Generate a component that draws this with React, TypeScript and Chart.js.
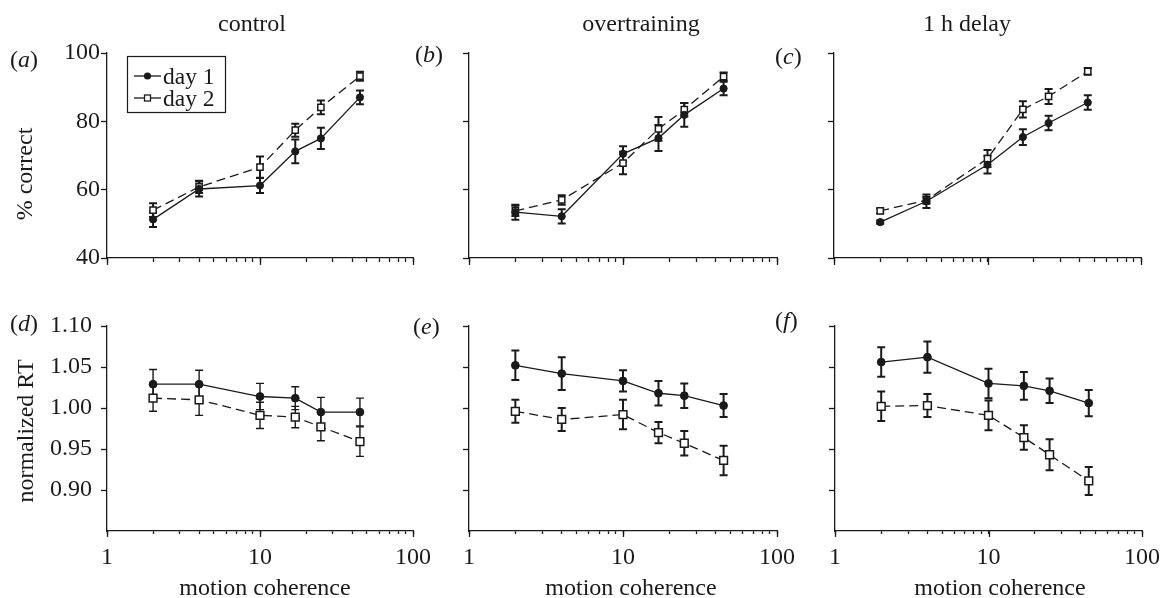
import React, { useEffect, useRef } from 'react';
import { Chart, registerables } from 'chart.js';

Chart.register(...registerables);

// ---------- data ----------
const coherence = [2, 4, 10, 17, 25, 45];
const xTickValues = [1, 2, 3, 4, 5, 6, 7, 8, 9, 10, 20, 30, 40, 50, 60, 70, 80, 90, 100];
const xMajorTicks = [1, 10, 100];
const accTicks = [40, 60, 80, 100];
const rtTicks = [0.9, 0.95, 1.0, 1.05, 1.1];
const panelTitles = ['control', 'overtraining', '1 h delay'];
const panelLetters = ['a', 'b', 'c', 'd', 'e', 'f'];
const seriesNames = ['day 1', 'day 2'];
const xAxisTitle = 'motion coherence';
const accAxisTitle = '% correct';
const rtAxisTitle = 'normalized RT';

// (a) control, % correct
const controlAccDay1 = [51.3, 60.2, 61.2, 71.2, 75.0, 87.0];
const controlAccDay1Err = [2.2, 2.2, 2.2, 3.5, 3.1, 2.0];
const controlAccDay2 = [54.0, 60.8, 66.6, 77.4, 84.1, 93.2];
const controlAccDay2Err = [2.0, 1.8, 3.1, 1.9, 2.0, 1.3];
// (b) overtraining, % correct
const overAccDay1 = [53.4, 52.2, 70.5, 75.1, 81.9, 89.6];
const overAccDay1Err = [2.2, 2.1, 2.2, 3.8, 3.5, 2.0];
const overAccDay2 = [53.8, 57.0, 67.8, 77.8, 83.4, 93.1];
const overAccDay2Err = [1.5, 1.4, 3.3, 3.5, 2.0, 1.2];
// (c) 1 h delay, % correct
const delayAccDay1 = [50.5, 56.6, 67.3, 75.4, 79.5, 85.5];
const delayAccDay1Err = [0.5, 2.0, 2.6, 2.3, 2.1, 2.1];
const delayAccDay2 = [53.8, 56.9, 69.1, 83.5, 87.3, 94.6];
const delayAccDay2Err = [0.7, 1.0, 2.5, 2.4, 2.2, 1.0];
// (d) control, normalized RT
const controlRtDay1 = [1.029, 1.029, 1.014, 1.012, 0.995, 0.995];
const controlRtDay1Err = [0.018, 0.017, 0.016, 0.014, 0.018, 0.017];
const controlRtDay2 = [1.012, 1.01, 0.991, 0.989, 0.977, 0.959];
const controlRtDay2Err = [0.016, 0.019, 0.016, 0.013, 0.017, 0.018];
// (e) overtraining, normalized RT
const overRtDay1 = [1.052, 1.042, 1.033, 1.018, 1.015, 1.003];
const overRtDay1Err = [0.018, 0.02, 0.013, 0.015, 0.015, 0.014];
const overRtDay2 = [0.996, 0.986, 0.992, 0.97, 0.957, 0.936];
const overRtDay2Err = [0.014, 0.014, 0.018, 0.013, 0.015, 0.018];
// (f) 1 h delay, normalized RT
const delayRtDay1 = [1.056, 1.062, 1.03, 1.027, 1.021, 1.006];
const delayRtDay1Err = [0.018, 0.019, 0.018, 0.017, 0.015, 0.016];
const delayRtDay2 = [1.002, 1.003, 0.991, 0.964, 0.943, 0.911];
const delayRtDay2Err = [0.018, 0.014, 0.018, 0.015, 0.019, 0.017];

// ---------- styles ----------
const FONT = '"Liberation Serif", "Times New Roman", Times, serif';
const FS = 24;
const INK = '#1a1a1a';

type Box = { left: number; top: number; width: number; height: number };
type Area = { left: number; top: number; right: number; bottom: number };
type PanelSpec = {
  kind: 'acc' | 'rt';
  canvas: Box;
  area: Area;
  day1: number[];
  day1Err: number[];
  day2: number[];
  day2Err: number[];
  showY: boolean;
  showX: boolean;
  legend: boolean;
  errWidth: number;
};

const panels: PanelSpec[] = [
  { kind: 'acc', canvas: { left: 0, top: 0, width: 440, height: 275 }, area: { left: 107, top: 53, right: 413, bottom: 258 },
    day1: controlAccDay1, day1Err: controlAccDay1Err, day2: controlAccDay2, day2Err: controlAccDay2Err, showY: true, showX: false, legend: true, errWidth: 2 },
  { kind: 'acc', canvas: { left: 430, top: 0, width: 370, height: 275 }, area: { left: 469, top: 53, right: 777, bottom: 258 },
    day1: overAccDay1, day1Err: overAccDay1Err, day2: overAccDay2, day2Err: overAccDay2Err, showY: false, showX: false, legend: false, errWidth: 2 },
  { kind: 'acc', canvas: { left: 790, top: 0, width: 376, height: 275 }, area: { left: 834, top: 53, right: 1141, bottom: 258 },
    day1: delayAccDay1, day1Err: delayAccDay1Err, day2: delayAccDay2, day2Err: delayAccDay2Err, showY: false, showX: false, legend: false, errWidth: 2 },
  { kind: 'rt', canvas: { left: 0, top: 275, width: 440, height: 323 }, area: { left: 107, top: 326, right: 413, bottom: 531 },
    day1: controlRtDay1, day1Err: controlRtDay1Err, day2: controlRtDay2, day2Err: controlRtDay2Err, showY: true, showX: true, legend: false, errWidth: 1.4 },
  { kind: 'rt', canvas: { left: 430, top: 275, width: 380, height: 323 }, area: { left: 469, top: 326, right: 777, bottom: 531 },
    day1: overRtDay1, day1Err: overRtDay1Err, day2: overRtDay2, day2Err: overRtDay2Err, showY: false, showX: true, legend: false, errWidth: 2 },
  { kind: 'rt', canvas: { left: 790, top: 275, width: 376, height: 323 }, area: { left: 835, top: 326, right: 1142, bottom: 531 },
    day1: delayRtDay1, day1Err: delayRtDay1Err, day2: delayRtDay2, day2Err: delayRtDay2Err, showY: false, showX: true, legend: false, errWidth: 2 },
];

// ---------- plugins ----------
const errorBarPlugin = {
  id: 'errorBars',
  beforeDatasetsDraw(chart: any, _args: any, opts: any) {
    const { ctx } = chart;
    const xs = chart.scales.x;
    const ys = chart.scales.y;
    chart.data.datasets.forEach((ds: any) => {
      const errs: number[] = ds.errors;
      if (!errs) return;
      ctx.save();
      ctx.strokeStyle = INK;
      ctx.lineWidth = opts.width || 2;
      ctx.setLineDash([]);
      ds.data.forEach((pt: any, j: number) => {
        const x = xs.getPixelForValue(pt.x);
        const y1 = ys.getPixelForValue(pt.y + errs[j]);
        const y2 = ys.getPixelForValue(pt.y - errs[j]);
        const cap = 4;
        ctx.beginPath();
        ctx.moveTo(x, y1);
        ctx.lineTo(x, y2);
        ctx.moveTo(x - cap, y1);
        ctx.lineTo(x + cap, y1);
        ctx.moveTo(x - cap, y2);
        ctx.lineTo(x + cap, y2);
        ctx.stroke();
      });
      ctx.restore();
    });
  },
};

const majorTickPlugin = {
  id: 'majorTicks',
  afterDraw(chart: any, _args: any, opts: any) {
    const { ctx, chartArea } = chart;
    const xs = chart.scales.x;
    ctx.save();
    ctx.strokeStyle = INK;
    ctx.lineWidth = 1.3;
    xMajorTicks.forEach((v) => {
      const x = Math.round(xs.getPixelForValue(v)) + 0.5;
      ctx.beginPath();
      ctx.moveTo(x, chartArea.bottom);
      ctx.lineTo(x, chartArea.bottom + (opts.length || 6));
      ctx.stroke();
    });
    ctx.restore();
  },
};

const boxLegendPlugin = {
  id: 'boxLegend',
  afterDraw(chart: any, _args: any, opts: any) {
    if (!opts.show) return;
    const { ctx, chartArea } = chart;
    const bx = chartArea.left + 20.5;
    const by = chartArea.top + 3.5;
    ctx.save();
    ctx.strokeStyle = INK;
    ctx.lineWidth = 1.2;
    ctx.setLineDash([]);
    ctx.strokeRect(bx, by, 98, 56);
    const rows = [by + 19.5, by + 41.5];
    ctx.font = `23.5px ${FONT}`;
    ctx.fillStyle = INK;
    ctx.textBaseline = 'alphabetic';
    ctx.textAlign = 'left';
    rows.forEach((ry, i) => {
      ctx.lineWidth = 1.3;
      ctx.beginPath();
      ctx.moveTo(bx + 6.5, ry);
      ctx.lineTo(bx + 33.5, ry);
      ctx.stroke();
      const mx = bx + 20;
      if (i === 0) {
        ctx.beginPath();
        ctx.arc(mx, ry, 3.6, 0, Math.PI * 2);
        ctx.fill();
      } else {
        ctx.fillStyle = '#fff';
        ctx.fillRect(mx - 3, ry - 3, 6, 6);
        ctx.strokeRect(mx - 3, ry - 3, 6, 6);
        ctx.fillStyle = INK;
      }
      ctx.fillText(seriesNames[i], bx + 35.5, ry + 7.5);
    });
    ctx.restore();
  },
};

function buildConfig(spec: PanelSpec): any {
  const isAcc = spec.kind === 'acc';
  const yTicks = isAcc ? accTicks : rtTicks;
  const pts = (vals: number[]) => coherence.map((x, i) => ({ x, y: vals[i] }));
  const canvasRight = spec.canvas.left + spec.canvas.width;
  const canvasBottom = spec.canvas.top + spec.canvas.height;
  return {
    type: 'line',
    data: {
      datasets: [
        {
          label: seriesNames[0],
          data: pts(spec.day1),
          errors: spec.day1Err,
          borderColor: INK,
          borderWidth: 1.3,
          pointStyle: 'circle',
          pointRadius: isAcc ? 3.6 : 3.9,
          pointBackgroundColor: INK,
          pointBorderColor: INK,
          pointBorderWidth: 1,
          fill: false,
          tension: 0,
        },
        {
          label: seriesNames[1],
          data: pts(spec.day2),
          errors: spec.day2Err,
          borderColor: INK,
          borderWidth: 1.3,
          borderDash: [9, 5],
          pointStyle: 'rect',
          pointRadius: isAcc ? 4.4 : 5.5,
          pointBackgroundColor: '#ffffff',
          pointBorderColor: INK,
          pointBorderWidth: 1.5,
          fill: false,
          tension: 0,
        },
      ],
    },
    options: {
      animation: false,
      responsive: false,
      maintainAspectRatio: false,
      events: [],
      layout: {
        autoPadding: false,
        padding: {
          left: 0,
          top: spec.area.top - spec.canvas.top,
          right: canvasRight - spec.area.right,
          bottom: 0,
        },
      },
      plugins: {
        legend: { display: false },
        tooltip: { enabled: false },
        errorBars: { width: spec.errWidth },
        majorTicks: { length: isAcc ? 7 : 6 },
        boxLegend: { show: spec.legend },
      },
      scales: {
        x: {
          type: 'logarithmic',
          position: 'bottom',
          min: 1,
          max: 100,
          afterBuildTicks: (s: any) => {
            s.ticks = xTickValues.map((v) => ({ value: v, major: xMajorTicks.includes(v) }));
          },
          afterFit: (s: any) => {
            s.height = canvasBottom - spec.area.bottom;
            s.paddingLeft = 0;
            s.paddingRight = 0;
          },
          ticks: {
            display: spec.showX,
            autoSkip: false,
            maxRotation: 0,
            minRotation: 0,
            padding: 9,
            color: INK,
            font: { family: FONT, size: FS },
            callback: (v: any) => (xMajorTicks.includes(Number(v)) ? String(v) : ''),
          },
          grid: {
            drawOnChartArea: false,
            drawTicks: true,
            tickLength: isAcc ? 4 : 3,
            tickColor: INK,
            tickWidth: 1.3,
          },
          border: { display: true, color: INK, width: 1.3 },
        },
        y: {
          type: 'linear',
          position: 'left',
          min: isAcc ? 40 : 0.85,
          max: isAcc ? 100 : 1.1,
          afterBuildTicks: (s: any) => {
            s.ticks = yTicks.map((v) => ({ value: v }));
          },
          afterFit: (s: any) => {
            s.width = spec.area.left - spec.canvas.left;
            s.paddingTop = 0;
            s.paddingBottom = 0;
          },
          ticks: {
            display: spec.showY,
            padding: isAcc ? 1 : 9,
            color: INK,
            font: { family: FONT, size: FS },
            callback: (v: any) => (isAcc ? String(v) : Number(v).toFixed(2)),
          },
          grid: {
            drawOnChartArea: false,
            drawTicks: true,
            tickLength: 6,
            tickColor: INK,
            tickWidth: 1.3,
          },
          border: { display: true, color: INK, width: 1.3 },
        },
      },
    },
    plugins: [errorBarPlugin, majorTickPlugin, boxLegendPlugin],
  };
}

function Panel({ spec }: { spec: PanelSpec }) {
  const ref = useRef<HTMLCanvasElement>(null);
  useEffect(() => {
    if (!ref.current) return;
    const chart = new Chart(ref.current, buildConfig(spec));
    return () => chart.destroy();
  }, [spec]);
  return (
    <canvas
      ref={ref}
      width={spec.canvas.width}
      height={spec.canvas.height}
      style={{
        position: 'absolute',
        left: spec.canvas.left,
        top: spec.canvas.top,
        width: spec.canvas.width,
        height: spec.canvas.height,
      }}
    />
  );
}

const textBase: React.CSSProperties = {
  position: 'absolute',
  fontFamily: FONT,
  fontSize: FS,
  lineHeight: `${FS}px`,
  color: INK,
  whiteSpace: 'nowrap',
};

// layout positions of the html texts
const titleCenters = [252, 641, 967];
const letterPos = [
  { left: 10, top: 47 },
  { left: 415, top: 42 },
  { left: 775, top: 44 },
  { left: 10, top: 311 },
  { left: 413, top: 314 },
  { left: 775, top: 308 },
];
const xTitleCenters = [265, 631, 1000];

export default function App() {
  return (
    <div style={{ position: 'absolute', left: 0, top: 0, width: 1166, height: 598, background: '#fff', overflow: 'hidden' }}>
      {panels.map((p, i) => (
        <Panel key={i} spec={p} />
      ))}
      {panelTitles.map((t, i) => (
        <div key={'t' + i} style={{ ...textBase, left: titleCenters[i], top: 10.6, transform: 'translateX(-50%)' }}>
          {t}
        </div>
      ))}
      {panelLetters.map((l, i) => (
        <div key={'l' + i} style={{ ...textBase, left: letterPos[i].left, top: letterPos[i].top }}>
          (<i>{l}</i>)
        </div>
      ))}
      {xTitleCenters.map((cx, i) => (
        <div key={'x' + i} style={{ ...textBase, left: cx, top: 575, transform: 'translateX(-50%)' }}>
          {xAxisTitle}
        </div>
      ))}
      <div style={{ ...textBase, left: 23.5, top: 174, transform: 'translate(-50%, -50%) rotate(-90deg)' }}>
        {accAxisTitle}
      </div>
      <div style={{ ...textBase, left: 25, top: 431, transform: 'translate(-50%, -50%) rotate(-90deg)' }}>
        {rtAxisTitle}
      </div>
    </div>
  );
}
